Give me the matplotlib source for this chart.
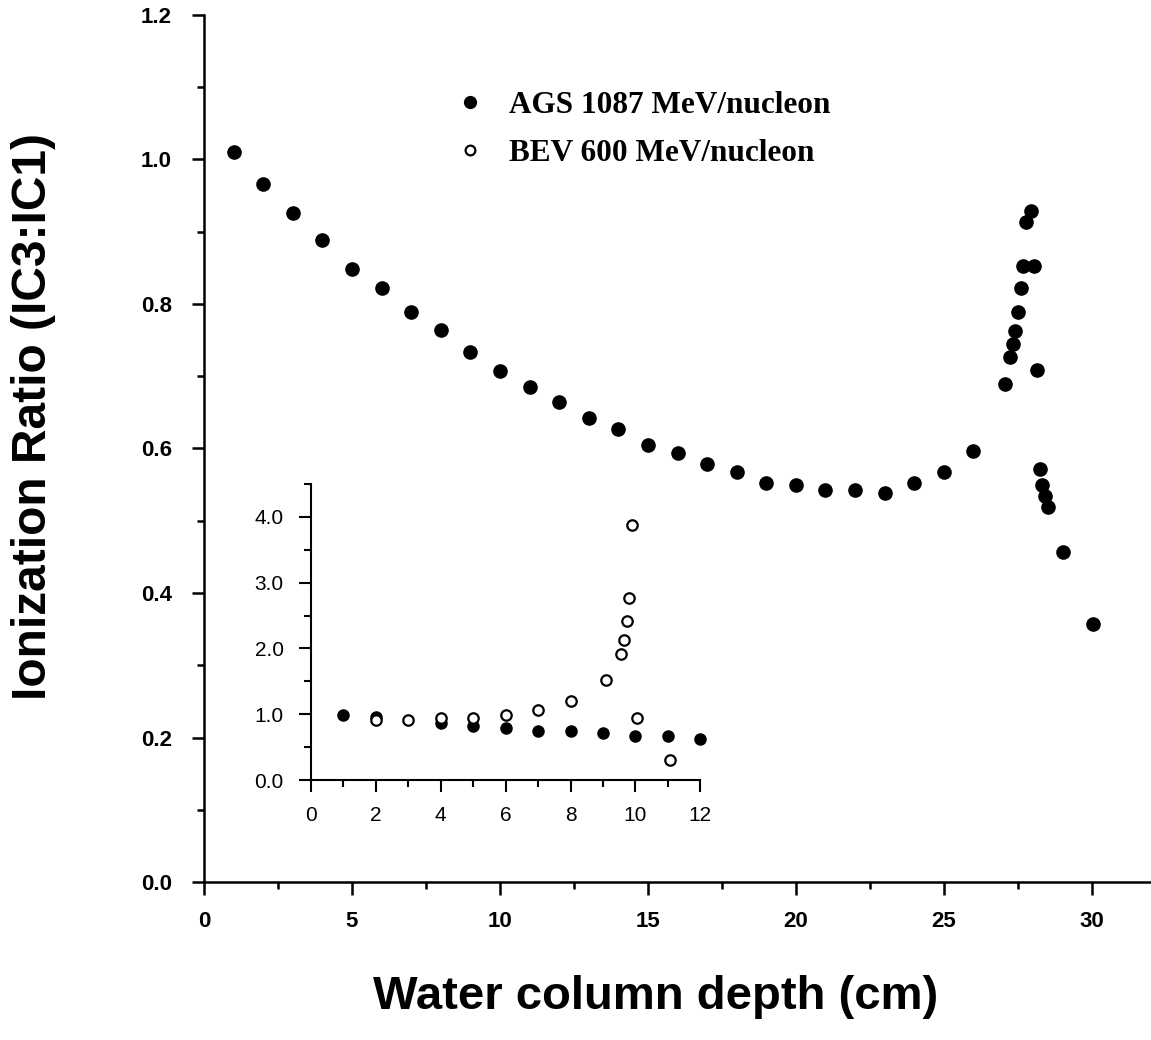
import matplotlib.pyplot as plt
from matplotlib.ticker import MultipleLocator, FormatStrFormatter
from matplotlib.lines import Line2D

# AGS 1087 MeV/nucleon, main panel
ags_depth = [1, 2, 3, 4, 5, 6, 7, 8, 9, 10, 11, 12, 13, 14, 15, 16, 17, 18, 19, 20,
             21, 22, 23, 24, 25, 26, 27.06, 27.24, 27.34, 27.42, 27.51, 27.60, 27.68,
             27.77, 27.96, 28.05, 28.14, 28.24, 28.32, 28.41, 28.51, 29.04, 30.03]
ags_ratio = [1.010, 0.966, 0.926, 0.889, 0.848, 0.822, 0.789, 0.764, 0.734, 0.707,
             0.685, 0.664, 0.642, 0.627, 0.605, 0.594, 0.579, 0.567, 0.552, 0.549,
             0.543, 0.543, 0.538, 0.552, 0.567, 0.597, 0.689, 0.726, 0.745, 0.763,
             0.789, 0.822, 0.852, 0.914, 0.929, 0.852, 0.708, 0.571, 0.549, 0.534,
             0.519, 0.457, 0.357]

# inset: AGS (filled) and BEV 600 MeV/nucleon (open)
inset_ags_depth = [1, 2, 4, 5, 6, 7, 8, 9, 10, 11, 12]
inset_ags_ratio = [0.99, 0.96, 0.86, 0.82, 0.785, 0.75, 0.75, 0.71, 0.67, 0.67, 0.63]
bev_depth = [2, 3, 4, 5, 6, 7, 8, 9.08, 9.56, 9.66, 9.74, 9.81, 9.90, 10.06, 11.05]
bev_ratio = [0.91, 0.91, 0.95, 0.95, 0.99, 1.07, 1.20, 1.52, 1.92, 2.13, 2.41, 2.77,
             3.87, 0.95, 0.30]

sans = 'Liberation Sans'
serif = 'Liberation Serif'

fig = plt.figure(figsize=(11.51, 10.4), dpi=100)

ax = fig.add_axes([204/1151, 1 - 882/1040, 1 - 204/1151, (882 - 15)/1040])
ax.plot(ags_depth, ags_ratio, 'o', color='black', markersize=9.5, clip_on=False)
ax.set_xlim(0, 32)
ax.set_ylim(0, 1.2)
for s in ['top', 'right']:
    ax.spines[s].set_visible(False)
for s in ['left', 'bottom']:
    ax.spines[s].set_linewidth(1.8)
ax.xaxis.set_major_locator(MultipleLocator(5))
ax.xaxis.set_minor_locator(MultipleLocator(2.5))
ax.yaxis.set_major_locator(MultipleLocator(0.2))
ax.yaxis.set_minor_locator(MultipleLocator(0.1))
ax.yaxis.set_major_formatter(FormatStrFormatter('%.1f'))
ax.tick_params(which='major', direction='out', length=9, width=1.8)
ax.tick_params(which='minor', direction='out', length=5, width=1.8)
ax.tick_params(axis='x', which='major', pad=12)
ax.tick_params(axis='y', which='major', pad=14)
for lab in ax.get_xticklabels() + ax.get_yticklabels():
    lab.set_fontfamily(sans)
    lab.set_fontweight('bold')
    lab.set_fontsize(16)

handles = [Line2D([], [], marker='o', ls='none', color='black', markersize=8.5),
           Line2D([], [], marker='o', ls='none', mfc='white', mec='black',
                  mew=1.6, markersize=7),
           ]
ax.legend(handles, ['AGS 1087 MeV/nucleon', 'BEV 600 MeV/nucleon'],
          loc='upper left', bbox_to_anchor=(0.235, 0.945), frameon=False,
          handlelength=1.0, handletextpad=0.75, labelspacing=0.62,
          prop={'family': serif, 'weight': 'bold', 'size': 22.5})

# inset
ins = fig.add_axes([310.7/1151, 1 - 780/1040, (700.4 - 310.7)/1151, (780 - 484)/1040])
ins.plot(inset_ags_depth, inset_ags_ratio, 'o', color='black', markersize=8, clip_on=False)
ins.plot(bev_depth, bev_ratio, 'o', mfc='white', mec='black', mew=1.6, markersize=7.5,
         clip_on=False)
ins.set_xlim(0, 12)
ins.set_ylim(0, 4.5)
ins.patch.set_alpha(0)
for s in ['top', 'right']:
    ins.spines[s].set_visible(False)
for s in ['left', 'bottom']:
    ins.spines[s].set_linewidth(1.5)
ins.xaxis.set_major_locator(MultipleLocator(2))
ins.xaxis.set_minor_locator(MultipleLocator(1))
ins.set_yticks([0, 1, 2, 3, 4])
ins.yaxis.set_minor_locator(MultipleLocator(0.5))
ins.yaxis.set_major_formatter(FormatStrFormatter('%.1f'))
ins.tick_params(which='major', direction='out', length=8.5, width=1.5)
ins.tick_params(which='minor', direction='out', length=5, width=1.5)
ins.tick_params(axis='x', which='major', pad=10)
ins.tick_params(axis='y', which='major', pad=11)
for lab in ins.get_xticklabels() + ins.get_yticklabels():
    lab.set_fontfamily(sans)
    lab.set_fontsize(15)

fig.text(656/1151, 1 - 997/1040, 'Water column depth (cm)', ha='center', va='center',
         fontfamily=sans, fontweight='bold', fontsize=34)
fig.text(34/1151, 1 - 417/1040, 'Ionization Ratio (IC3:IC1)', ha='center', va='center',
         rotation=90, fontfamily=sans, fontweight='bold', fontsize=34.5)

fig.savefig('out.png', dpi=100)
